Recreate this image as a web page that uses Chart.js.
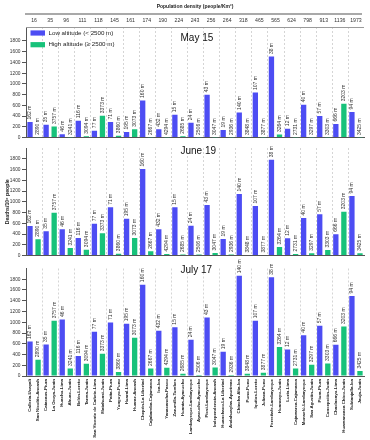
<!DOCTYPE html>
<html>
<head>
<meta charset="utf-8">
<script src="https://cdn.jsdelivr.net/npm/chart.js@4/dist/chart.umd.min.js"></script>
<style>
html,body{margin:0;padding:0;background:#fff;}
#wrap{position:relative;width:370px;height:440px;overflow:hidden;background:#fff;}
canvas{position:absolute;left:0;}
</style>
</head>
<body>
<div id="wrap">
<canvas id="c1" width="370" height="142" style="top:0;width:370px;height:142px"></canvas>
<canvas id="c2" width="370" height="124" style="top:136px;width:370px;height:124px"></canvas>
<canvas id="c3" width="370" height="182" style="top:258px;width:370px;height:182px"></canvas>
</div>
<script>
// ---------- DATA ----------
const cities = [
  'Calleria-Ucayali','San Nicolás-Ancash','Catacaos-Piura','La Oroya-Junín','Huacho-Lima','Ahuac-Junín',
  'Belén-Loreto','Tarma-Junín','San Vicente de Cañete-Lima','Matahuasi-Junín','Paita-Piura','Yunguyo-Puno',
  'Huaral-Lima','Huaraz-Ancash','Chepén-La Libertad','Cajabamba-Cajamarca','Ica-Ica','Yanacancha-Pasco',
  'Zarumilla-Tumbes','Huanta-Ayacucho','Lambayeque-Lambayeque','Ayacucho-Ayacucho','Picsi-Lambayeque','Independencia-Ancash',
  'Huanchaco-La Libertad','Andahuaylas-Apurímac','Chincha Alta-Ica','Puno-Puno','Iquitos-Loreto','Juliaca-Puno',
  'Ferreñafe-Lambayeque','Huancayo-Junín','Lurín-Lima','Cajamarca-Cajamarca','Monsefú-Lambayeque','San Agustín-Junín',
  'Piura-Piura','Concepción-Junín','Chaclacayo-Lima','Huamancaca Chico-Junín','Subtanjalla-Ica','Jauja-Junín'
];
const altitudes = [162,2890,35,3757,46,3241,116,3094,77,3373,71,3860,195,3073,160,2667,432,4294,15,2685,
  24,2506,43,3047,19,2936,140,3848,107,3877,38,3264,12,2731,40,3297,57,3303,666,3203,94,3425];
const densities = ['16','35','96','111','118','145','161','174','190','224','243','256','264','318','465','565','624','798','913','1136','1973'];

const may15 = [290,5,240,205,65,3,315,25,130,408,291,37,105,155,693,3,155,2,427,25,
  278,3,798,3,142,2,470,2,841,2,1509,56,167,2,612,2,402,2,254,631,476,2];
const jun19 = [551,303,451,798,488,142,328,111,594,414,897,37,686,328,1608,80,488,31,897,19,
  556,19,940,50,310,19,1144,12,922,12,1781,161,321,31,699,43,767,105,396,816,1107,43];
const jul17 = [642,302,587,1026,1050,141,371,228,822,414,995,74,970,711,1700,141,840,154,909,43,
  673,19,1087,160,451,19,1866,43,1026,62,1837,538,494,141,760,210,933,234,581,920,1490,93];

const yTicksMax = 1800;
const BLUE = '#4d4df3';
const GREEN = '#17c27a';
const FONT = 'Arial, "Liberation Sans", sans-serif';
const legendItems = [['Low altitude (< 2500 m)', BLUE], ['High altitude (\u2265 2500 m)', GREEN]];

const barColors = altitudes.map(a => a >= 2500 ? GREEN : BLUE);

// ---------- PLUGINS ----------
const barLabels = {
  id: 'barLabels',
  afterDatasetsDraw(chart) {
    const ctx = chart.ctx;
    const meta = chart.getDatasetMeta(0);
    ctx.save();
    ctx.font = '5px ' + FONT;
    ctx.fillStyle = '#333';
    ctx.textAlign = 'left';
    ctx.textBaseline = 'middle';
    meta.data.forEach((bar, i) => {
      ctx.save();
      ctx.translate(bar.x, bar.y - 2.5);
      ctx.rotate(-Math.PI / 2);
      ctx.fillText(altitudes[i] + ' m', 0, 0);
      ctx.restore();
    });
    ctx.restore();
  }
};

const groupLines = {
  id: 'groupLines',
  beforeDatasetsDraw(chart) {
    const {ctx, chartArea: {top, bottom}} = chart;
    const xs = chart.scales.x;
    ctx.save();
    ctx.strokeStyle = '#c4c4c4';
    ctx.lineWidth = 0.7;
    ctx.setLineDash([2, 2]);
    for (let g = 1; g < densities.length; g++) {
      const x = Math.round((xs.getPixelForValue(2 * g - 1) + xs.getPixelForValue(2 * g)) / 2) + 0.5;
      ctx.beginPath();
      ctx.moveTo(x, top);
      ctx.lineTo(x, bottom);
      ctx.stroke();
    }
    ctx.restore();
  }
};

const panelTitle = {
  id: 'panelTitle',
  afterDraw(chart, args, opts) {
    if (!opts.text) return;
    const ctx = chart.ctx;
    ctx.save();
    ctx.font = '10px ' + FONT;
    ctx.fillStyle = '#111';
    ctx.textAlign = 'left';
    ctx.textBaseline = 'middle';
    ctx.fillText(opts.text, 180.5, chart.chartArea.top + opts.dy);
    ctx.restore();
  }
};

const header = {
  id: 'header',
  afterDraw(chart, args, opts) {
    if (!opts.show) return;
    const {ctx, chartArea: {left, right, top}} = chart;
    const xs = chart.scales.x;
    ctx.save();
    ctx.fillStyle = '#222';
    ctx.textAlign = 'center';
    ctx.textBaseline = 'middle';
    ctx.font = 'bold 5px ' + FONT;
    ctx.fillText('Population density (people/Km\u00B2)', (left + right) / 2, 7);
    ctx.strokeStyle = '#8c8c8c';
    ctx.lineWidth = 1.6;
    ctx.beginPath(); ctx.moveTo(left - 1, 14); ctx.lineTo(right - 2, 14); ctx.stroke();
    ctx.font = '5.2px ' + FONT;
    ctx.fillStyle = '#333';
    densities.forEach((d, g) => {
      const x = (xs.getPixelForValue(2 * g) + xs.getPixelForValue(2 * g + 1)) / 2;
      ctx.fillText(d, x, 20.5);
    });
    ctx.strokeStyle = '#9a9a9a';
    ctx.lineWidth = 1;
    ctx.beginPath(); ctx.moveTo(left, top + 0.5); ctx.lineTo(right, top + 0.5); ctx.stroke();
    // legend
    ctx.textAlign = 'left';
    ctx.font = '6.2px ' + FONT;
    legendItems.forEach((it, i) => {
      const y = top + 6 + i * 11.7;
      ctx.fillStyle = it[1];
      ctx.fillRect(left + 4.5, y - 2.6, 14.5, 5.2);
      ctx.fillStyle = '#222';
      ctx.fillText(it[0], left + 22.5, y);
    });
    ctx.restore();
  }
};

// ---------- CHART FACTORY ----------
function makeChart(id, data, opt) {
  return new Chart(document.getElementById(id), {
    type: 'bar',
    data: {
      labels: cities,
      datasets: [{
        data: data,
        backgroundColor: barColors,
        barPercentage: 0.66,
        categoryPercentage: 1.0,
        borderWidth: 0
      }]
    },
    options: {
      responsive: false,
      animation: false,
      layout: {padding: {top: opt.padTop, right: 6, bottom: opt.padBottom, left: 0}},
      plugins: {
        legend: {display: false},
        tooltip: {enabled: false},
        panelTitle: {text: opt.title, dy: opt.titleDy},
        header: {show: !!opt.header}
      },
      scales: {
        x: {
          ticks: {
            display: !!opt.xLabels,
            autoSkip: false,
            minRotation: 90,
            maxRotation: 90,
            padding: 3,
            color: '#222',
            font: {size: 4.4, weight: 'bold', family: FONT}
          },
          grid: {display: true, drawTicks: false, color: 'rgba(0,0,0,0)'},
          border: {display: true, color: '#555', width: 1},
          afterFit: opt.xLabels ? (s => { s.height = 64; }) : undefined
        },
        y: {
          min: 0,
          max: opt.yMax,
          afterBuildTicks: s => { s.ticks = s.ticks.filter(t => t.value <= yTicksMax); },
          ticks: {stepSize: 200, padding: 1.5, color: '#333', font: {size: 4.8, family: FONT},
                  callback: v => String(v)},
          grid: {drawOnChartArea: false, drawTicks: true, tickLength: 4, color: '#555'},
          border: {display: true, color: '#555', width: 1},
          title: opt.yTitle ? {display: true, text: opt.yTitle, color: '#222', font: {size: 5.2, weight: 'bold', family: FONT}, padding: {top: 4, bottom: 0}} : {display: false},
          afterFit: s => { s.width = 26; }
        }
      }
    },
    plugins: [groupLines, barLabels, panelTitle, header]
  });
}

makeChart('c1', may15, {padTop: 27, padBottom: 4, yMax: 2060, title: 'May 15', titleDy: 11, header: true});
makeChart('c2', jun19, {padTop: 12, padBottom: 4, yMax: 2000, title: 'June 19', titleDy: 3.5, yTitle: 'Deaths/10\u2076 people'});
makeChart('c3', jul17, {padTop: 10.5, padBottom: 0, yMax: 2000, title: 'July 17', titleDy: 1.5, xLabels: true});
</script>
</body>
</html>
